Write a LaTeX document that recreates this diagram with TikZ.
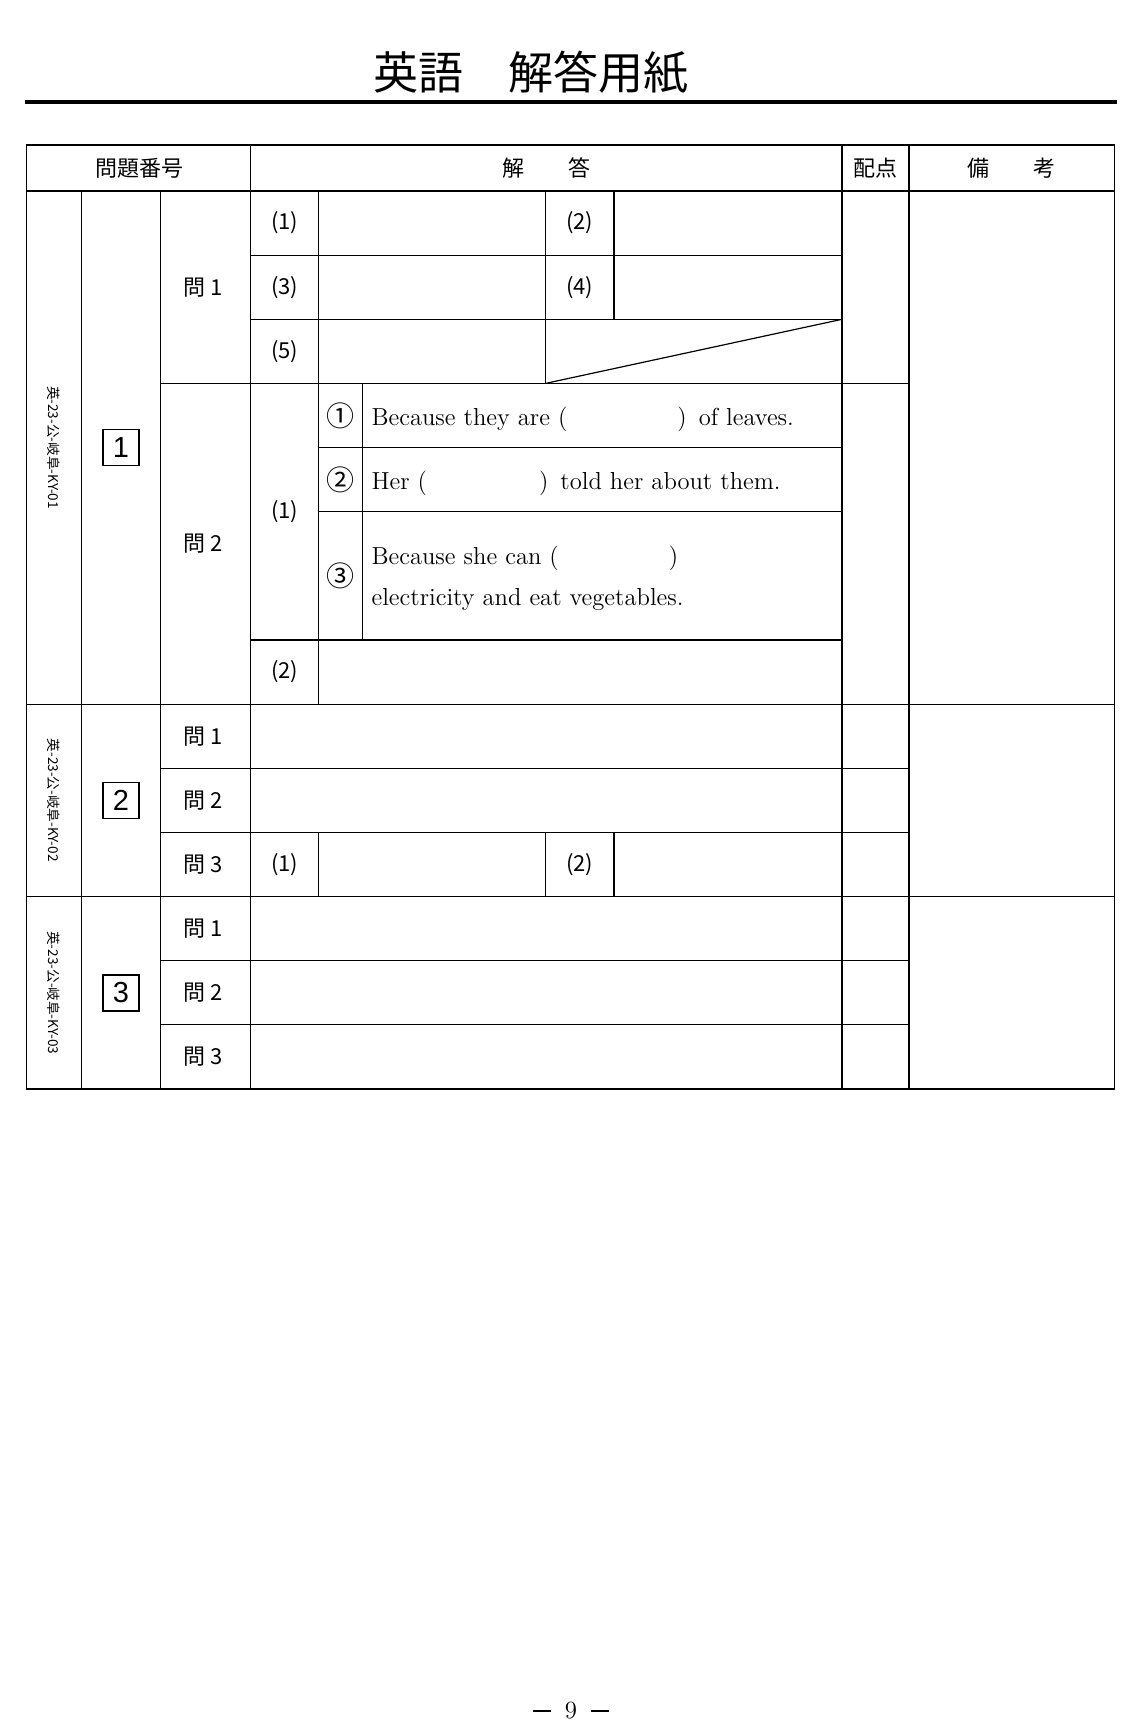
\documentclass[tikz,border=0pt]{standalone}
\usepackage{fontspec}
\newfontfamily\jp{Noto Sans CJK JP}
\newfontfamily\arialfont{Liberation Sans}
\begin{document}
\begin{tikzpicture} [x=0.5pt, y=-0.5pt, line width=0.6pt,
        head/.style={font=\jp\fontsize{11}{13}\selectfont, inner sep=0pt},
        qno/.style={font=\jp\fontsize{11}{13}\selectfont, inner sep=0pt},
        circno/.style={font=\jp\fontsize{14}{14}\selectfont, inner sep=0pt},
        sentence/.style={font=\fontsize{12.3}{14}\selectfont, anchor=base west, inner sep=0pt},
        codetext/.style={font=\jp\fontsize{6.8}{7}\selectfont, rotate=-90, inner sep=0pt},
        bignum/.style={draw, line width=0.8pt, minimum size=18pt, inner sep=0pt, font=\arialfont\fontsize{14.5}{14}\selectfont}]
    \useasboundingbox (0,0) rectangle (1134,1729);
    \node[font=\jp\fontsize{22.5}{24}\selectfont] (title) at (531,73) {英語　解答用紙};
    \draw[line width=1.8pt] (24.5,102) -- (1116.5,102);
    % frame and full rules
    \draw (26.8,145) rectangle (1114.6,1089);
    \foreach \y in {191, 704.1, 896.5}
        \draw (26.8,\y) -- (1114.6,\y);
    \foreach \y in {255.1, 319.3}
        \draw (250.8,\y) -- (842,\y);
    \foreach \y in {447.6, 511.7}
        \draw (318.5,\y) -- (842,\y);
    \draw (250.8,640) -- (842,640);
    \foreach \y in {383.4, 768.3, 832.4, 960.7, 1024.8}
        \draw (160.7,\y) -- (909,\y);
    \foreach \x in {81.1, 160.7}
        \draw (\x,191) -- (\x,1089);
    \foreach \x in {250.8, 842, 909}
        \draw (\x,145) -- (\x,1089);
    \draw (318.5,191) -- (318.5,704.1);
    \draw (362.8,383.4) -- (362.8,640);
    \draw (545.5,191) -- (545.5,383.4);
    \draw (614,191) -- (614,319.3);
    \foreach \x in {318.5, 545.5, 614}
        \draw (\x,832.4) -- (\x,896.5);
    \draw (545.5,383.4) -- (842,319.3);
    % header
    \node[head] (h-no) at (139,168) {問題番号};
    \node[head] (h-ans) at (546.4,168) {解　　答};
    \node[head] (h-pt) at (875.5,168) {配点};
    \node[head] (h-rem) at (1011.8,168) {備　　考};
    % big question numbers
    \foreach \name/\y in {1/447.6, 2/800.3, 3/992.8} {
        \node[codetext] (C-\name) at (53.5,\y) {英-23-公-岐阜-KY-0\name};
        \node[bignum] (B-\name) at (120.9,\y) {\name};
    }
    \foreach \name/\txt/\y in {a/問 1/287.2, b/問 2/543.8, c/問 1/736.2, d/問 2/800.3,
            e/問 3/864.5, f/問 1/928.6, g/問 2/992.8, h/問 3/1056.9}
        \node[qno] (Q-\name) at (203,\y) {\txt};
    \foreach \name/\txt/\x/\y in {a/(1)/284.6/223.1, b/(2)/579.8/223.1, c/(3)/284.6/287.2,
            d/(4)/579.8/287.2, e/(5)/284.6/351.4, f/(1)/284.6/511.7, g/(2)/284.6/672,
            h/(1)/284.6/864.5, i/(2)/579.8/864.5}
        \node[qno] (P-\name) at (\x,\y) {\txt};
    \foreach \name/\txt/\y in {1/①/415.5, 2/②/479.6, 3/③/575.8}
        \node[circno] (R-\name) at (340.6,\y) {\txt};
    % sentences
    \node[sentence] (S-1) at (371,425) {Because they are\hspace{4pt}(\hspace{55pt})\hspace{6pt}of leaves.};
    \node[sentence] (S-2) at (371,489) {Her\hspace{4pt}(\hspace{56pt})\hspace{6pt}told her about them.};
    \node[sentence] (S-3) at (371,564.5) {Because she can\hspace{4pt}(\hspace{55pt})};
    \node[sentence] (S-4) at (371,605) {electricity and eat vegetables.};
    \node[font=\fontsize{12.4}{13}\selectfont, anchor=base] (page) at (571,1718)
        {\rule[3.2pt]{9pt}{0.8pt}\hspace{7pt}9\hspace{7pt}\rule[3.2pt]{9pt}{0.8pt}};
\end{tikzpicture}
\end{document}
